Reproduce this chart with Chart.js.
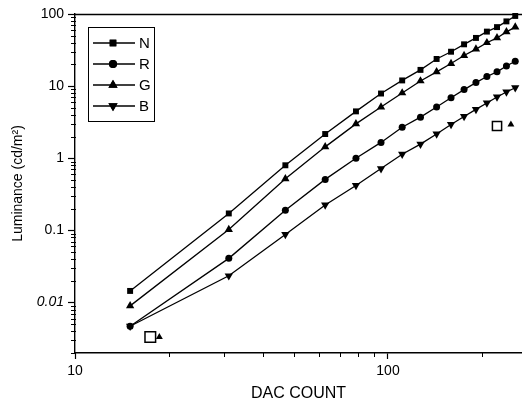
<!DOCTYPE html>
<html><head><meta charset="utf-8">
<script src="https://cdn.jsdelivr.net/npm/chart.js@4/dist/chart.umd.min.js"></script>
<style>html,body{margin:0;padding:0;background:#fff;overflow:hidden}canvas{display:block}</style>
</head><body><canvas id="c" width="522" height="405" style="width:522px;height:405px"></canvas>
<script>
// ---- data ----
const dacCount = [15,31,47,63,79,95,111,127,143,159,175,191,207,223,239,255];
const lumN = [0.0145,0.172,0.80,2.17,4.47,7.9,12.0,16.8,23.8,30,38,46.6,57,65.8,79,94];
const lumR = [0.0047,0.041,0.19,0.51,1.0,1.66,2.69,3.72,5.13,6.92,8.96,11.2,13.6,15.8,19,22.1];
const lumG = [0.009,0.103,0.52,1.44,3.0,5.13,8.05,11.8,15.8,20.6,26.6,32.6,40,46.6,56.5,65.8];
const lumB = [0.0047,0.0235,0.088,0.225,0.42,0.72,1.14,1.57,2.17,2.94,3.8,4.76,5.84,7.08,8.3,9.5];
// small open-square / triangle marks appearing in the figure
const markSquareX = [17.4, 223];
const markSquareY = [0.00333, 2.8];
const markTriX = [18.6, 247];
const markTriY = [0.00333, 2.95];
const seriesNames = ['N','R','G','B'];
const xTickLabels = ['10','100'];
const yTickLabels = ['0.01','0.1','1','10','100'];

const FONT = "'Liberation Sans', Arial, sans-serif";
const pts = (xs, ys) => xs.map((x,i)=>({x, y: ys[i]}));
const isDecade = v => { const l = Math.log10(v); return Math.abs(l - Math.round(l)) < 1e-6; };
const isMinor = v => { const e = Math.floor(Math.log10(v)+1e-9); const m = v/Math.pow(10,e); return Math.abs(m-Math.round(m))<1e-6 && !isDecade(v); };

function series(label, ys, style, radius, rotation){
  return {label, data: pts(dacCount, ys), borderColor:'#000', backgroundColor:'#000',
    borderWidth:1.3, pointStyle:style, pointRadius:radius, pointRotation:rotation||0,
    pointBorderWidth:0, pointBackgroundColor:'#000', showLine:true, tension:0, clip:false};
}
const datasets = [
  series(seriesNames[0], lumN, 'rect', 4.2),
  series(seriesNames[1], lumR, 'circle', 3.5),
  series(seriesNames[2], lumG, 'triangle', 4.8),
  series(seriesNames[3], lumB, 'triangle', 4.8, 180),
  {label:'', data: pts(markSquareX, markSquareY), showLine:false, pointStyle:'rect', pointRadius:[7.5,6.5],
   pointBackgroundColor:'#fff', pointBorderColor:'#000', pointBorderWidth:1.5, clip:false},
  {label:'', data: pts(markTriX, markTriY), showLine:false, pointStyle:'triangle', pointRadius:4,
   pointBackgroundColor:'#000', pointBorderColor:'#000', pointBorderWidth:0, clip:false}
];

const frame = {
  id:'frame',
  afterDraw(chart){
    const {ctx, chartArea:a, scales:{x,y}} = chart;
    ctx.save();
    ctx.strokeStyle='#000';
    ctx.lineWidth=1.4;
    ctx.beginPath(); ctx.moveTo(a.left, a.top+0.5); ctx.lineTo(chart.width, a.top+0.5); ctx.stroke();
    ctx.lineWidth=1;
    ctx.beginPath();
    y.ticks.forEach(t=>{ if(isMinor(t.value)){ const py=Math.round(y.getPixelForValue(t.value))+0.5; ctx.moveTo(a.left-4,py); ctx.lineTo(a.left+1,py);} });
    x.ticks.forEach(t=>{ if(isMinor(t.value)){ const px=Math.round(x.getPixelForValue(t.value))+0.5; ctx.moveTo(px,a.bottom-1); ctx.lineTo(px,a.bottom+4);} });
    ctx.stroke();
    // legend box
    const bx=88, by=27, bw=66, bh=94;
    ctx.lineWidth=1;
    ctx.strokeRect(bx+0.5, by+0.5, bw, bh);
    ctx.font = "15px " + FONT;
    ctx.textBaseline='middle'; ctx.textAlign='left'; ctx.fillStyle='#000';
    let row=0;
    chart.data.datasets.forEach(ds=>{
      if(!ds.label) return;
      const ly = 43 + row*21;
      ctx.lineWidth=1.3;
      ctx.beginPath(); ctx.moveTo(93, ly); ctx.lineTo(135, ly); ctx.stroke();
      Chart.helpers.drawPoint(ctx, {pointStyle: ds.pointStyle, rotation: ds.pointRotation, borderWidth:0, radius: ds.pointRadius+0.5}, 113, ly);
      ctx.fillStyle='#000';
      ctx.fill();
      ctx.fillText(ds.label, 139, ly+1);
      row++;
    });
    ctx.restore();
  }
};

new Chart(document.getElementById('c'), {
  type:'scatter',
  data:{datasets},
  options:{
    responsive:false, animation:false, devicePixelRatio:1,
    layout:{autoPadding:false, padding:{top:14,right:0,bottom:0,left:0}},
    plugins:{legend:{display:false}, tooltip:{enabled:false}},
    scales:{
      x:{type:'logarithmic', min:10, max:268,
        border:{display:true, color:'#000', width:1.4},
        grid:{drawOnChartArea:false, drawTicks:true, tickLength:6,
          tickColor:c=> (c.tick && isDecade(c.tick.value)) ? '#000' : 'rgba(0,0,0,0)', tickWidth:1.2},
        ticks:{autoSkip:false, maxRotation:0, padding:4, color:'#000', font:{family:FONT,size:14},
          callback:v=> isDecade(v) && xTickLabels.includes(String(v)) ? String(v) : ''},
        title:{display:true, text:'DAC COUNT', color:'#000', font:{family:FONT,size:16}, padding:{top:0,bottom:2}},
        afterFit:s=>{ s.height=52; s.paddingRight=0; s.paddingLeft=0; }
      },
      y:{type:'logarithmic', min:0.002, max:100,
        border:{display:true, color:'#000', width:1.4},
        grid:{drawOnChartArea:false, drawTicks:true, tickLength:7,
          tickColor:c=> (c.tick && isDecade(c.tick.value)) ? '#000' : 'rgba(0,0,0,0)', tickWidth:1.2},
        ticks:{autoSkip:false, padding:4, color:'#000',
          font:c=>({family:FONT, size:14, style:(c.tick && Math.abs(c.tick.value-0.01)<1e-9)?'italic':'normal'}),
          callback:v=>{ const s = String(+v.toPrecision(6)); return isDecade(v) && yTickLabels.includes(s) ? s : ''; }},
        title:{display:true, text:'Luminance (cd/m²)', color:'#000', font:{family:FONT,size:14}, padding:{top:10,bottom:0}},
        afterFit:s=>{ s.width=75; }
      }
    }
  },
  plugins:[frame]
});
</script>
</body></html>
